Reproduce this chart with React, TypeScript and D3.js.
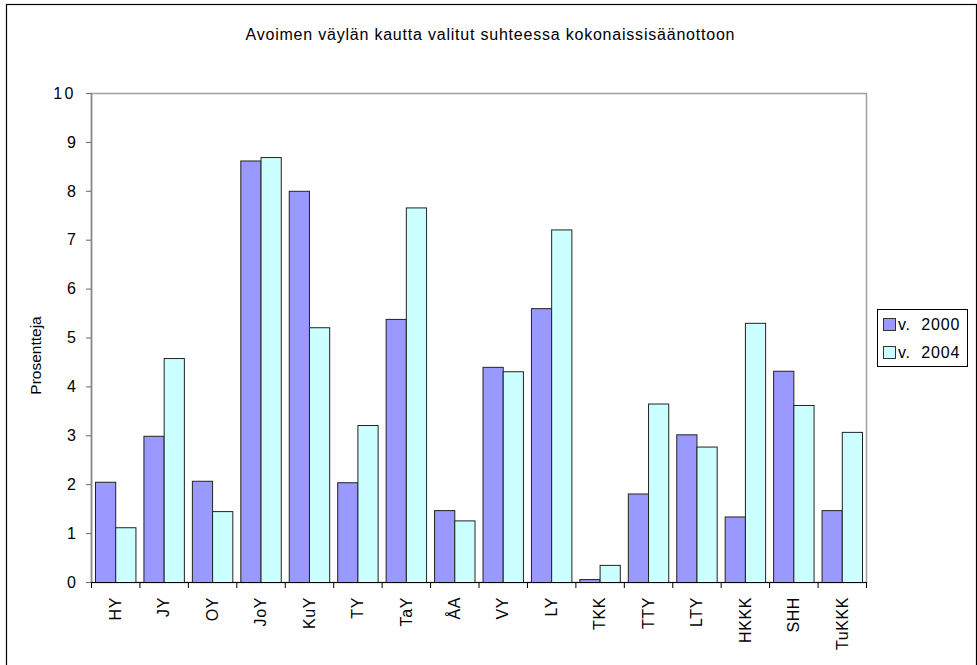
import React from "react";
import * as d3 from "d3";

const categories = ["HY", "JY", "OY", "JoY", "KuY", "TY", "TaY", "ÅA", "VY", "LY", "TKK", "TTY", "LTY", "HKKK", "SHH", "TuKKK"];
const series2000 = [2.05, 2.99, 2.07, 8.62, 8.0, 2.04, 5.38, 1.47, 4.4, 5.6, 0.06, 1.81, 3.02, 1.34, 4.32, 1.47];
const series2004 = [1.12, 4.58, 1.45, 8.69, 5.21, 3.21, 7.66, 1.26, 4.31, 7.21, 0.35, 3.65, 2.77, 5.3, 3.62, 3.07];
const seriesNames = ["v.  2000", "v.  2004"];
const seriesColors = ["#9999FF", "#CCFFFF"];
const yTicks = [0, 1, 2, 3, 4, 5, 6, 7, 8, 9, 10];
const title = "Avoimen väylän kautta valitut suhteessa kokonaissisäänottoon";
const yTitle = "Prosentteja";

const W = 977;
const H = 665;
const plot = { left: 91, right: 866, top: 93, bottom: 582 };
const font = "Arial, 'Liberation Sans', Helvetica, sans-serif";

export default function App() {
  const x = d3
    .scaleBand<string>()
    .domain(categories)
    .range([plot.left, plot.right])
    .paddingInner(0)
    .paddingOuter(0);
  const y = d3.scaleLinear().domain([0, 10]).range([plot.bottom, plot.top]);
  const bw = x.bandwidth();
  const gap = bw * 0.0826;
  const inner = d3
    .scaleBand<number>()
    .domain([0, 1])
    .range([gap, bw - gap])
    .padding(0);
  const data = [series2000, series2004];

  return (
    <svg
      width={W}
      height={H}
      style={{ position: "absolute", left: 0, top: 0, background: "#fff" }}
      fontFamily={font}
    >
      <rect x={0} y={0} width={W} height={H} fill="#fff" />
      <rect x={6.5} y={4.5} width={970} height={720} fill="none" stroke="#000" strokeWidth={1.2} />
      <text
        x={490}
        y={40}
        textAnchor="middle"
        fontSize={16}
        textLength={489}
        lengthAdjust="spacing"
        fill="#000"
      >
        {title}
      </text>

      {/* plot area border */}
      <rect
        x={plot.left + 0.5}
        y={plot.top + 0.5}
        width={plot.right - plot.left}
        height={plot.bottom - plot.top}
        fill="#fff"
        stroke="#a0a0a0"
        strokeWidth={1.5}
      />

      {/* bars */}
      {categories.map((c, i) => (
        <g key={c}>
          {data.map((s, j) => {
            const bx = (x(c) as number) + (inner(j) as number);
            const top = y(s[i]);
            return (
              <rect
                key={j}
                x={bx + 0.5}
                y={top + 0.5}
                width={inner.bandwidth()}
                height={Math.max(0, plot.bottom - top)}
                fill={seriesColors[j]}
                stroke="#222"
                strokeWidth={1}
              />
            );
          })}
        </g>
      ))}

      {/* y axis */}
      <line x1={plot.left + 0.5} x2={plot.left + 0.5} y1={plot.top} y2={plot.bottom} stroke="#888" strokeWidth={1.5} />
      {yTicks.map((t) => (
        <g key={t}>
          <line x1={plot.left - 5} x2={plot.left} y1={y(t) + 0.5} y2={y(t) + 0.5} stroke="#666" />
          <text
            x={76}
            y={y(t)}
            dy="0.36em"
            textAnchor="end"
            fontSize={16}
            letterSpacing={t >= 10 ? 2.5 : 0}
            fill="#000"
          >
            {t}
          </text>
        </g>
      ))}
      <text
        transform={`translate(41,${(plot.top + plot.bottom) / 2 + 18}) rotate(-90)`}
        textAnchor="middle"
        fontSize={15.5}
        fill="#000"
      >
        {yTitle}
      </text>

      {/* x axis */}
      <line x1={plot.left} x2={plot.right + 1} y1={plot.bottom + 0.5} y2={plot.bottom + 0.5} stroke="#000" />
      {categories.map((c) => (
        <line
          key={"t" + c}
          x1={(x(c) as number) + 0.5}
          x2={(x(c) as number) + 0.5}
          y1={plot.bottom}
          y2={plot.bottom + 6}
          stroke="#000"
        />
      ))}
      <line x1={plot.right + 0.5} x2={plot.right + 0.5} y1={plot.bottom} y2={plot.bottom + 6} stroke="#000" />
      {categories.map((c) => (
        <text
          key={"l" + c}
          transform={`translate(${(x(c) as number) + bw / 2},597) rotate(-90)`}
          textAnchor="end"
          dy="0.36em"
          fontSize={16}
          letterSpacing={0.6}
          fill="#000"
        >
          {c}
        </text>
      ))}

      {/* legend */}
      <rect x={877.5} y={309.5} width={90} height={57} fill="#fff" stroke="#000" strokeWidth={1} />
      {seriesNames.map((n, j) => (
        <g key={n}>
          <rect
            x={883.5}
            y={318.5 + j * 28}
            width={12}
            height={12}
            fill={seriesColors[j]}
            stroke="#333"
          />
          <text
            x={898}
            y={330 + j * 28}
            fontSize={16}
            letterSpacing={0.8}
            fill="#000"
            style={{ whiteSpace: "pre" }}
          >
            {n}
          </text>
        </g>
      ))}
    </svg>
  );
}
